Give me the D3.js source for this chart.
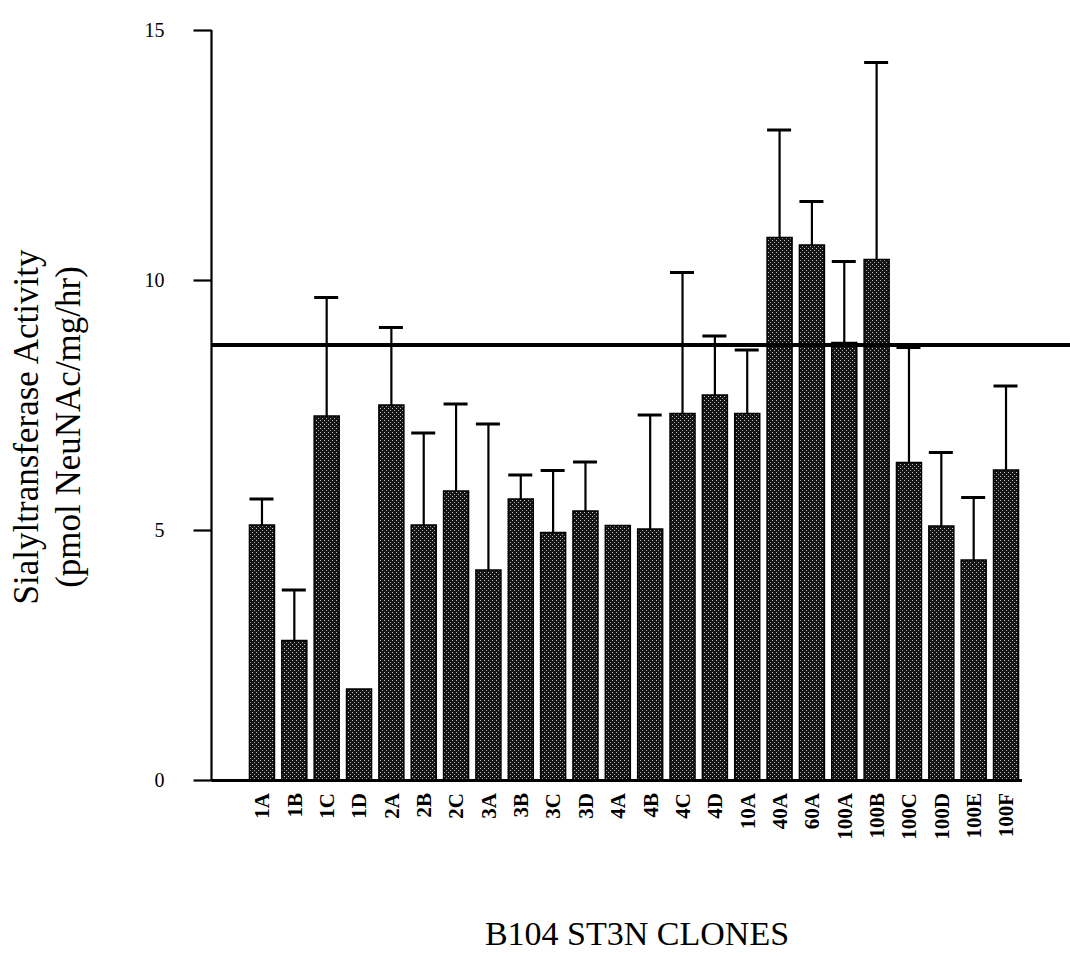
<!DOCTYPE html>
<html>
<head>
<meta charset="utf-8">
<script src="https://cdn.jsdelivr.net/npm/d3@7"></script>
<style>
  html, body { margin: 0; padding: 0; background: #fff; }
  svg { display: block; }
</style>
</head>
<body>
<svg id="chart" width="1070" height="956"></svg>
<script>
const categories = ["1A","1B","1C","1D","2A","2B","2C","3A","3B","3C","3D","4A","4B","4C","4D","10A","40A","60A","100A","100B","100C","100D","100E","100F"];
const activity = [5.1,2.79,7.28,1.82,7.5,5.1,5.78,4.2,5.62,4.95,5.38,5.09,5.02,7.33,7.7,7.33,10.85,10.7,8.75,10.41,6.35,5.08,4.4,6.2];
const errorUp = [0.52,1.01,2.37,0,1.55,1.84,1.74,2.92,0.48,1.24,0.98,0,2.28,2.82,1.18,1.27,2.15,0.87,1.62,3.94,2.3,1.47,1.25,1.68];
const yTicks = [0,5,10,15];
const referenceLevel = 8.7;
const yTitle = ["Sialyltransferase Activity", "(pmol NeuNAc/mg/hr)"];
const xTitle = "B104 ST3N CLONES";

const svg = d3.select("#chart");
const font = "Liberation Serif, Times New Roman, serif";

// pattern for stippled bars
const defs = svg.append("defs");
const pat = defs.append("pattern").attr("id","stipple").attr("patternUnits","userSpaceOnUse")
  .attr("width",4).attr("height",4);
pat.append("rect").attr("width",4).attr("height",4).attr("fill","#151515");
pat.append("rect").attr("x",0).attr("y",0).attr("width",1).attr("height",1).attr("fill","#c8c8c8");
pat.append("rect").attr("x",2).attr("y",2).attr("width",1).attr("height",1).attr("fill","#a8a8a8");

const y = d3.scaleLinear().domain([0,15]).range([780,30]);
const x = d3.scaleBand().domain(categories).range([245.8, 1022.2]).paddingInner(0.227).paddingOuter(0.1135);
const axisX = 211.5;

// bars
svg.append("g").selectAll("rect").data(categories).join("rect")
  .attr("x", d => x(d))
  .attr("y", (d,i) => y(activity[i]))
  .attr("width", x.bandwidth())
  .attr("height", (d,i) => y(0) - y(activity[i]))
  .attr("fill", "url(#stipple)")
  .attr("stroke", "#000").attr("stroke-width", 1.5);

// error bars
const eg = svg.append("g").attr("stroke","#000");
categories.forEach((c,i) => {
  if (!errorUp[i]) return;
  const cx = x(c) + x.bandwidth()/2;
  const top = y(activity[i] + errorUp[i]);
  eg.append("line").attr("x1",cx).attr("x2",cx).attr("y1",y(activity[i])).attr("y2",top).attr("stroke-width",2.2);
  eg.append("line").attr("x1",x(c)).attr("x2",x(c)+x.bandwidth()-1).attr("y1",top).attr("y2",top).attr("stroke-width",3);
});

// reference line
svg.append("line").attr("x1",axisX).attr("x2",1070)
  .attr("y1",y(referenceLevel)).attr("y2",y(referenceLevel))
  .attr("stroke","#000").attr("stroke-width",4);

// y axis
const yAxis = d3.axisLeft(y).tickValues(yTicks).tickSize(18).tickPadding(29).tickFormat(d3.format("d"));
const yg = svg.append("g").attr("transform",`translate(${axisX},0)`).call(yAxis);
yg.attr("font-size", null).attr("font-family", null);
yg.select(".domain").attr("stroke","#000").attr("stroke-width",2.2).attr("d",`M0,${y(15)}V${y(0)+1}`);
yg.selectAll(".tick line").attr("stroke","#000").attr("stroke-width",2.2);
yg.selectAll("text")
  .style("font-family",font).style("font-size","20px").style("fill","#000");

// x axis
const xAxis = d3.axisBottom(x).tickSize(0).tickPadding(0);
const xg = svg.append("g").attr("transform",`translate(0,${y(0)})`).call(xAxis);
xg.attr("font-size", null).attr("font-family", null);
xg.select(".domain").attr("stroke","#000").attr("stroke-width",3).attr("d",`M${axisX},0.5H1022`);
xg.selectAll("text")
  .style("font-family",font).style("font-size","21px").style("font-weight","bold").style("fill","#000")
  .style("text-anchor","end")
  .attr("transform","rotate(-90)")
  .attr("x",-13).attr("y",0).attr("dy","0.35em");

// y title
const yt = svg.append("text").attr("transform","translate(0,427) rotate(-90)")
  .style("font-family",font).style("font-size","35px").attr("text-anchor","middle").attr("fill","#000");
yt.append("tspan").attr("x",0).attr("y",38).text(yTitle[0]);
yt.append("tspan").attr("x",0).attr("y",80).text(yTitle[1]);

// x title
svg.append("text").attr("x",637).attr("y",945).attr("text-anchor","middle")
  .style("font-family",font).style("font-size","34px").attr("fill","#000").text(xTitle);
</script>
</body>
</html>
